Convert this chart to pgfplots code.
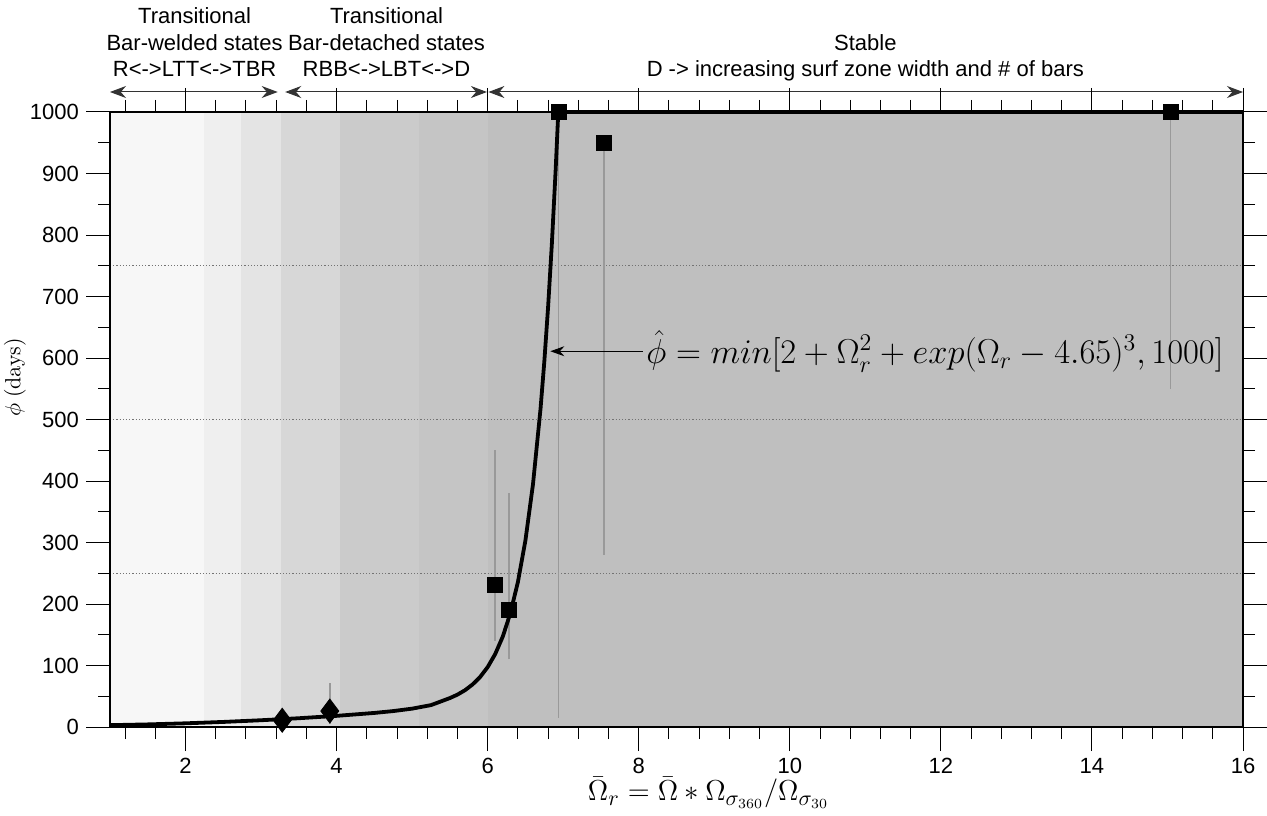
\documentclass[border=0pt]{standalone}
\usepackage[no-math]{fontspec}
\setmainfont{Liberation Sans}
\usepackage{pgfplots}
\pgfplotsset{compat=1.18}
\usetikzlibrary{arrows.meta}
\definecolor{bA}{HTML}{F7F7F7}
\definecolor{bB}{HTML}{EFEFEF}
\definecolor{bC}{HTML}{E4E4E4}
\definecolor{bD}{HTML}{D7D7D7}
\definecolor{bE}{HTML}{CBCBCB}
\definecolor{bF}{HTML}{C5C5C5}
\definecolor{bG}{HTML}{BFBFBF}
\definecolor{errc}{HTML}{999999}
\begin{document}
\begin{tikzpicture}[font=\fontsize{11}{13}\selectfont]
\useasboundingbox (-55pt,-44pt) rectangle (578.5pt,363.5pt);
\begin{axis}[
  at={(0,0)}, anchor=south west,
  scale only axis, width=566.5pt, height=307.5pt,
  xmin=1, xmax=16, ymin=0, ymax=1000,
  clip=false, axis on top,
  xtick={2,4,...,16},
  minor xtick={1.2,1.6,...,15.7},
  ytick={0,100,...,1000},
  minor ytick={50,150,...,950},
  tick align=outside,
  major tick length=12pt, minor tick length=6pt,
  tick style={black, line width=0.5pt},
  axis line style={black, line width=0.6pt},
  /pgf/number format/assume math mode=true,
  /pgf/number format/1000 sep={},
  xticklabel style={font=\fontsize{11}{13}\selectfont},
  yticklabel style={font=\fontsize{11}{13}\selectfont},
  every axis x label/.style={at={(axis description cs:0.5,0)}, yshift=-33pt, xshift=16pt, anchor=center},
  every axis y label/.style={at={(axis description cs:0,0.5)}, xshift=-47.5pt, yshift=21pt, rotate=90, anchor=center},
  xlabel={\fontsize{15}{17}\selectfont$\bar{\Omega}_r = \bar{\Omega} * \Omega_{\sigma_{360}}/\Omega_{\sigma_{30}}$},
  ylabel={\fontsize{10.5}{12}\selectfont$\phi$ $(\mathrm{days})$},
]
% background bands
\addplot[fill=bA, draw=none, forget plot] coordinates {(1,0)(1,1000)(2.25,1000)(2.25,0)} --cycle;
\addplot[fill=bB, draw=none, forget plot] coordinates {(2.25,0)(2.25,1000)(2.74,1000)(2.74,0)} --cycle;
\addplot[fill=bC, draw=none, forget plot] coordinates {(2.74,0)(2.74,1000)(3.26,1000)(3.26,0)} --cycle;
\addplot[fill=bD, draw=none, forget plot] coordinates {(3.26,0)(3.26,1000)(4.04,1000)(4.04,0)} --cycle;
\addplot[fill=bE, draw=none, forget plot] coordinates {(4.04,0)(4.04,1000)(5.09,1000)(5.09,0)} --cycle;
\addplot[fill=bF, draw=none, forget plot] coordinates {(5.09,0)(5.09,1000)(6.0,1000)(6.0,0)} --cycle;
\addplot[fill=bG, draw=none, forget plot] coordinates {(6.0,0)(6.0,1000)(16,1000)(16,0)} --cycle;
% dotted reference lines
\addplot[densely dotted, black!55, line width=0.6pt, forget plot] coordinates {(1,250)(16,250)};
\addplot[densely dotted, black!55, line width=0.6pt, forget plot] coordinates {(1,500)(16,500)};
\addplot[densely dotted, black!55, line width=0.6pt, forget plot] coordinates {(1,750)(16,750)};
% error bars
\addplot[errc, line width=0.8pt, forget plot] coordinates {(3.91,5)(3.91,72)};
\addplot[errc, line width=0.8pt, forget plot] coordinates {(6.10,140)(6.10,450)};
\addplot[errc, line width=0.8pt, forget plot] coordinates {(6.28,110)(6.28,381)};
\addplot[errc, line width=0.8pt, forget plot] coordinates {(6.94,15)(6.94,1000)};
\addplot[errc, line width=0.8pt, forget plot] coordinates {(7.54,280)(7.54,950)};
\addplot[errc, line width=0.8pt, forget plot] coordinates {(15.04,550)(15.04,1000)};
% fitted curve
\addplot[black, line width=1.9pt, line join=round] coordinates {
(1,3.00)(1.5,4.25)(2,6.00)(2.5,8.25)(3,11.01)(3.5,14.28)(4,18.14)(4.5,22.89)
(4.75,25.91)(5,29.86)(5.25,35.61)(5.5,47.06)(5.6,52.65)(5.7,59.83)(5.8,69.14)
(5.9,81.33)(6.0,97.40)(6.1,118.69)(6.2,147.02)(6.3,184.86)(6.4,235.53)(6.5,303.49)
(6.6,394.79)(6.7,517.61)(6.75,594.13)(6.8,682.94)(6.85,786.02)(6.9,905.67)(6.935,1000)(16,1000)};
% observations
\addplot[only marks, mark=diamond*, mark size=6pt, black] coordinates {(3.28,11)(3.91,26)};
\addplot[only marks, mark=square*, mark size=3.75pt, black] coordinates {(6.10,231)(6.28,190)(6.94,1000)(7.54,950)(15.04,1000)};
% annotation
\draw[-{Stealth[length=7pt,width=5pt]}, line width=0.5pt] (axis cs:8.05,611) -- (axis cs:6.83,611);
\node[anchor=west, inner sep=1pt, font=\fontsize{16.8}{19}\selectfont] at (axis cs:8.07,611) {$\hat{\phi} = min[2 + \Omega_r^2 + exp(\Omega_r - 4.65)^3, 1000]$};
% regime labels
\draw[{Stealth[length=8pt,width=6pt]}-{Stealth[length=8pt,width=6pt]}, line width=0.5pt, black!80] ([yshift=10pt]axis cs:1,1000) -- ([yshift=10pt]axis cs:3.22,1000);
\draw[{Stealth[length=8pt,width=6pt]}-{Stealth[length=8pt,width=6pt]}, line width=0.5pt, black!80] ([yshift=10pt]axis cs:3.32,1000) -- ([yshift=10pt]axis cs:5.99,1000);
\draw[{Stealth[length=8pt,width=6pt]}-{Stealth[length=8pt,width=6pt]}, line width=0.5pt, black!80] ([yshift=10pt]axis cs:6.01,1000) -- ([yshift=10pt]axis cs:16,1000);
\node[anchor=base] at ([yshift=44pt]axis cs:2.12,1000) {Transitional};
\node[anchor=base] at ([yshift=30.5pt]axis cs:2.12,1000) {Bar-welded states};
\node[anchor=base] at ([yshift=17.5pt]axis cs:2.12,1000) {R<->LTT<->TBR};
\node[anchor=base] at ([yshift=44pt]axis cs:4.66,1000) {Transitional};
\node[anchor=base] at ([yshift=30.5pt]axis cs:4.66,1000) {Bar-detached states};
\node[anchor=base] at ([yshift=17.5pt]axis cs:4.66,1000) {RBB<->LBT<->D};
\node[anchor=base] at ([yshift=30.5pt]axis cs:11.0,1000) {Stable};
\node[anchor=base] at ([yshift=17.5pt]axis cs:11.0,1000) {D -> increasing surf zone width and \# of bars};
\end{axis}
\end{tikzpicture}
\end{document}
